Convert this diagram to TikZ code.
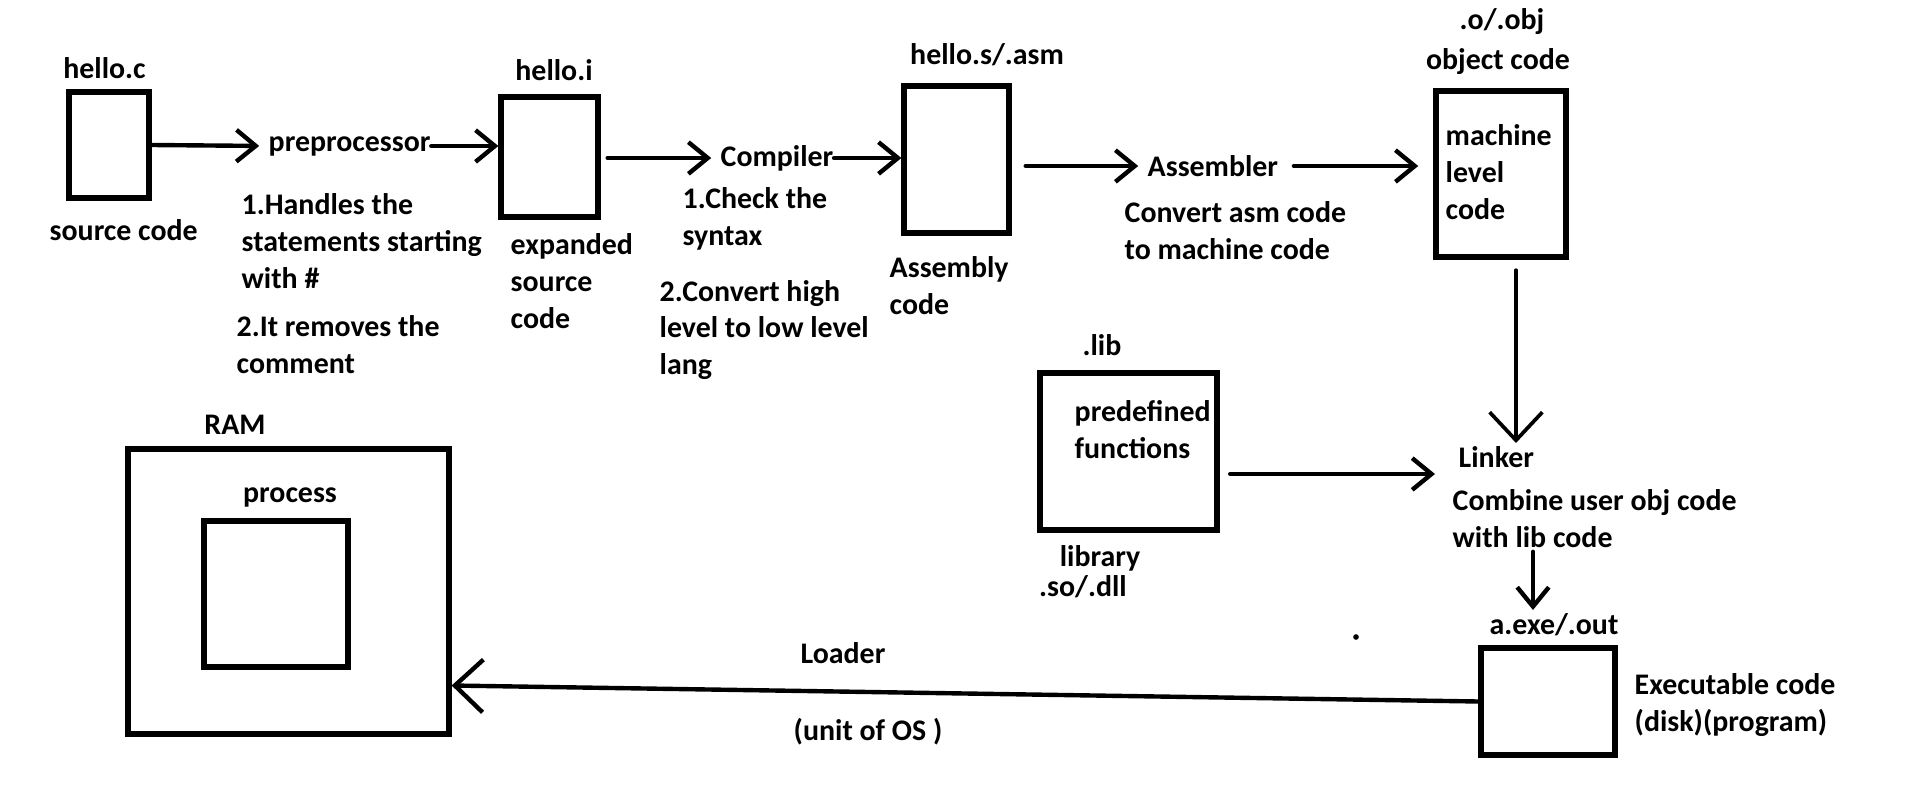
\documentclass[tikz,border=0pt]{standalone}
\usepackage{fontspec}
\setmainfont{Carlito}
\usetikzlibrary{arrows.meta}

\begin{document}
\begin{tikzpicture}[x=0.01cm, y=-0.01cm,
    every node/.style={font=\bfseries\fontsize{8.5pt}{10.5pt}\selectfont, inner sep=0pt},
    txt/.style={anchor=west, align=left},
    box/.style 2 args={draw, line width=1.5pt, minimum width=#1*0.01cm, minimum height=#2*0.01cm},
    arr/.style={line width=1.25pt, line cap=round, -{Straight Barb[length=5.5pt,width=9pt]}},
    bigarr/.style={line width=1.25pt, line cap=round, -{Straight Barb[length=8pt,width=15pt]}}]
            \useasboundingbox (0,0) rectangle (1914,809);

            % Source file
            \node[box={80}{106}] (hc) at (109,145) {};
            \node (hcl) at (104.5,68) {hello.c};
            \node[txt] (hcs) at (49,230) {source code};

            % Preprocessor
            \node[txt] (pre) at (268,146) {preprocessor};
            \node[txt] (pn1) at (241,241) {1.Handles the\\statements starting\\with \#};
            \node[txt] (pn2) at (236,345) {2.It removes the\\comment};

            % Expanded source
            \node[box={97}{120}] (hi) at (549.5,157) {};
            \node (hil) at (554,70) {hello.i};
            \node[txt] (his) at (510,281) {expanded\\source\\code};

            % Compiler
            \node[txt] (comp) at (720,158) {Compiler};
            \node[txt] (cn1) at (682,218.5) {1.Check the\\syntax};
            \node[txt] (cn2) at (659,330) {2.Convert high\\level to low level\\lang};

            % Assembly code
            \node[box={105}{147}] (hs) at (956.5,159.5) {};
            \node (hsl) at (987,55) {hello.s/.asm};
            \node[txt] (hss) at (889,285.5) {Assembly\\code};

            % Assembler
            \node[txt] (asm) at (1147,166) {Assembler};
            \node[txt] (asn) at (1124,231) {Convert asm code\\to machine code};

            % Object code
            \node[box={130}{166}] (ho) at (1501,174) {};
            \node (hol) at (1502,22) {.o/.obj};
            \node (hoc) at (1498,62) {object code};
            \node[txt] (hot) at (1445,172) {machine\\level\\code};

            % Library
            \node[box={177}{157}] (lib) at (1128.5,451.5) {};
            \node (libl) at (1102,345) {.lib};
            \node[txt] (libt) at (1074,430) {predefined\\functions};
            \node (libs) at (1100,558) {library};
            \node (libd) at (1083,587) {.so/.dll};

            % Linker
            \node[txt] (lnk) at (1458,457) {Linker};
            \node[txt] (cmb) at (1452,518.5) {Combine user obj code\\with lib code};

            % Executable
            \node[box={134}{107}] (exe) at (1548,701.5) {};
            \node (exel) at (1554,625) {a.exe/.out};
            \node[txt] (exet) at (1634,705.5) {Executable code\\(disk)(program)};

            % Memory
            \node[box={321}{285}] (ram) at (288.5,591.5) {};
            \node (raml) at (235,425) {RAM};
            \node[box={144}{146}] (proc) at (276,594) {};
            \node (procl) at (290,497) {process};

            % Loader
            \node (ldr) at (843,653) {Loader};
            \node (ldo) at (868,732) {(unit of OS )};

            % Arrow ends
            \coordinate (ltop) at (1516,443);
            \coordinate (lside) at (1435,474);
            \coordinate (etop) at (1533,610);
            \path (ram.east) ++(0,94) coordinate (ramin);

            % Arrows
            \draw[arr, shorten >=2.5pt] (hc.east) -- (pre.west);
            \draw[arr] (pre.east) -- (pre.east -| hi.west);
            \draw[arr, shorten <=2pt, shorten >=2.5pt] (hi.east |- comp.west) -- (comp.west);
            \draw[arr] (comp.east) -- (comp.east -| hs.west);
            \draw[arr, shorten <=4pt, shorten >=2.5pt] (hs.east |- asm.west) -- (asm.west);
            \draw[arr, shorten <=4.3pt, shorten >=4.3pt] (asm.east) -- (asm.east -| ho.west);
            \draw[bigarr, line width=1.05pt, shorten <=3pt] (ho.south -| ltop) -- (ltop);
            \draw[arr, shorten <=3pt] (lib.east |- lside) -- (lside);
            \draw[arr, shorten <=1pt] (cmb.south -| etop) -- (etop);
            \draw[bigarr] (exe.west) -- (ramin);

            % Stray dot
            \fill (1356,637) circle[radius=0.8pt];
        \end{tikzpicture}
\end{document}
